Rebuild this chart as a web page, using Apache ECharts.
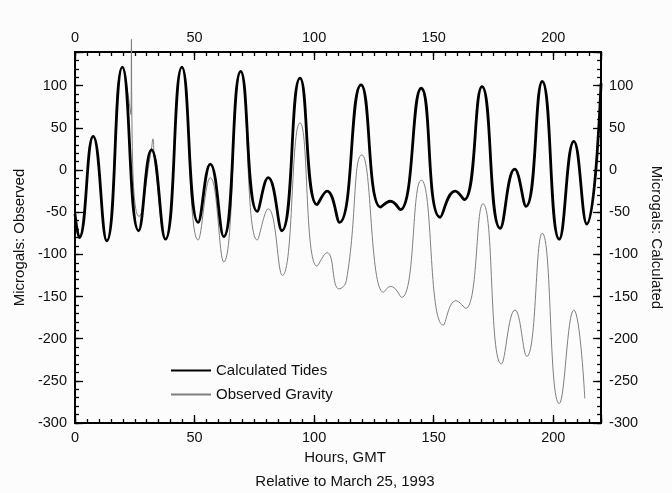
<!DOCTYPE html>
<html>
<head>
<meta charset="utf-8">
<script src="https://cdn.jsdelivr.net/npm/echarts@6/dist/echarts.min.js"></script>
<style>
html,body{margin:0;padding:0;background:#fbfcfb;}
#c{width:672px;height:493px;}
</style>
</head>
<body>
<div id="c"></div>
<script>
// Calculated tides (hours, microgals)
const calcHours = [0, 1.8, 7.6, 13.3, 19.8, 26.6, 32, 37.8, 44.7, 51.5, 56.6, 62.2, 69.3, 76.2, 80.8, 86.5, 94.1, 101.2, 105.4, 110.6, 119.6, 127.8, 131.9, 136, 144.8, 152.7, 159, 162.8, 170.2, 177.8, 183.9, 188.6, 195.4, 202.5, 208.6, 214, 220];
const calcValues = [-52, -80, 40, -84, 122, -72, 24, -82, 122, -62, 7, -79, 117, -49, -9, -72, 109, -41, -25, -62, 101, -44, -37, -47, 97, -56, -25, -35, 99, -69, 1, -43, 105, -82, 34, -64, 103];
// Observed gravity
const obsHours = [0, 1.8, 7.6, 13.3, 19.8, 23.4, 23.6, 23.8, 26.8, 31.9, 32.6, 33.2, 37.8, 44.7, 51.5, 56.6, 62.2, 69.3, 76.2, 80.8, 86.7, 94.1, 101.2, 105.4, 110.4, 113.5, 120, 129, 132, 136.6, 144.8, 154, 159.3, 163.4, 170.6, 178.3, 184, 188.9, 195.4, 202.5, 208.6, 213.2];
const obsValues = [-52, -80, 40, -84, 122, 66, 155, 58, -55, 24, 37, 15, -82, 122, -83, -9, -109, 116, -83, -46, -125, 56, -114, -98, -141, -131, 18, -145, -138, -151, -12, -184, -155, -164, -40, -230, -166, -221, -75, -277, -166, -271];
// Axis ticks
const xMin = 0, xMax = 220, xMajor = 50, xMinor = 5;
const yMin = -300, yMax = 140, yMajor = 50, yMinor = 10;

const zip = (a, b) => a.map((v, i) => [v, b[i]]);
const FONT = 'Liberation Sans, Arial, sans-serif';
const labelFmt = v => (v % 50 === 0 ? String(v) : '');

// Hidden helper axes whose range excludes zero, so each frame axis stays on its own edge
const X_DUMMY = 4, Y_DUMMY_LOW = 4, Y_DUMMY_HIGH = 5;

function xAxisDef(pos, major) {
  return {
    type: 'value', position: pos, min: xMin, max: xMax,
    interval: major ? xMajor : xMinor,
    axisLine: { show: true, onZeroAxisIndex: pos === 'bottom' ? Y_DUMMY_LOW : Y_DUMMY_HIGH,
                lineStyle: { color: '#000', width: 2 } },
    axisTick: { show: true, inside: true, length: major ? 8 : 4, lineStyle: { color: '#000', width: 1.3 } },
    axisLabel: { show: major, formatter: labelFmt, color: '#111', fontSize: 14.5, fontFamily: FONT, margin: 7 },
    splitLine: { show: false }
  };
}
function yAxisDef(pos, major) {
  return {
    type: 'value', position: pos, min: yMin, max: yMax,
    interval: major ? yMajor : yMinor,
    axisLine: { show: true, onZeroAxisIndex: pos === 'left' ? 0 : X_DUMMY,
                lineStyle: { color: '#000', width: 2 } },
    axisTick: { show: true, inside: true, length: major ? 8 : 4, lineStyle: { color: '#000', width: 1.3 } },
    axisLabel: { show: major, formatter: labelFmt, color: '#111', fontSize: 14.5, fontFamily: FONT, margin: 8 },
    splitLine: { show: false }
  };
}
const hiddenAxis = (pos, lo, hi) => ({ type: 'value', position: pos, min: lo, max: hi, show: false });

const xAxes = [xAxisDef('bottom', true), xAxisDef('bottom', false), xAxisDef('top', true), xAxisDef('top', false),
               hiddenAxis('bottom', -2, -1)];
const yAxes = [yAxisDef('left', true), yAxisDef('left', false), yAxisDef('right', true), yAxisDef('right', false),
               hiddenAxis('left', 1, 2), hiddenAxis('left', -2, -1)];
yAxes[0].name = 'Microgals: Observed';
yAxes[0].nameLocation = 'middle';
yAxes[0].nameGap = 44;
yAxes[0].nameTextStyle = { color: '#111', fontSize: 15, fontFamily: FONT };
yAxes[2].name = 'Microgals: Calculated';
yAxes[2].nameLocation = 'middle';
yAxes[2].nameGap = 38;
yAxes[2].nameRotate = -90;
yAxes[2].nameTextStyle = { color: '#111', fontSize: 15, fontFamily: FONT };

const titleStyle = { color: '#111', fontSize: 15, fontWeight: 'normal', fontFamily: FONT };

const chart = echarts.init(document.getElementById('c'), null, { renderer: 'canvas' });
chart.setOption({
  backgroundColor: '#fbfcfb',
  animation: false,
  title: [
    { text: 'Hours, GMT', left: 345, top: 450, textAlign: 'center', padding: 0, textStyle: titleStyle },
    { text: 'Relative to March 25, 1993', left: 345, top: 474, textAlign: 'center', padding: 0, textStyle: titleStyle }
  ],
  grid: { left: 75, right: 57, top: 52, bottom: 70 },
  legend: {
    data: ['Calculated Tides', 'Observed Gravity'],
    orient: 'vertical', left: 165, top: 358, itemGap: 9,
    itemWidth: 40, itemHeight: 14,
    itemStyle: { opacity: 0 },
    textStyle: { color: '#111', fontSize: 15, fontFamily: FONT }
  },
  xAxis: xAxes,
  yAxis: yAxes,
  series: [
    {
      name: 'Observed Gravity', type: 'line', xAxisIndex: 0, yAxisIndex: 0,
      data: zip(obsHours, obsValues), smooth: 0.5, symbol: 'none', clip: false,
      lineStyle: { color: '#7f7f7f', width: 1 }, itemStyle: { color: '#7f7f7f' }, z: 2
    },
    {
      name: 'Calculated Tides', type: 'line', xAxisIndex: 0, yAxisIndex: 2,
      data: zip(calcHours, calcValues), smooth: 0.5, symbol: 'none',
      lineStyle: { color: '#000', width: 2.8 }, itemStyle: { color: '#000' }, z: 3
    }
  ]
});
</script>
</body>
</html>
